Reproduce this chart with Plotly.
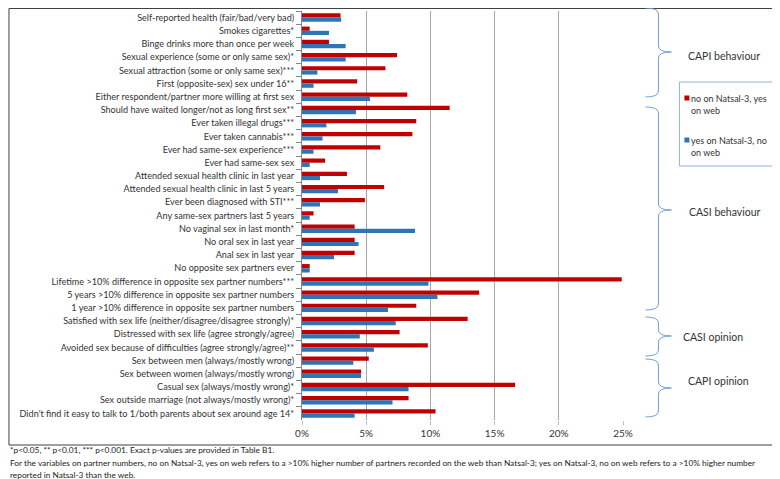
"""Natsal-3 vs web survey: discordant responses by variable."""

import plotly.graph_objects as go

categories = [
    "Self-reported health (fair/bad/very bad)",
    "Smokes cigarettes*",
    "Binge drinks more than once per week",
    "Sexual experience (some or only same sex)*",
    "Sexual attraction (some or only same sex)***",
    "First (opposite-sex) sex under 16**",
    "Either respondent/partner more willing at first sex",
    "Should have waited longer/not as long first sex**",
    "Ever taken illegal drugs***",
    "Ever taken cannabis***",
    "Ever had same-sex experience***",
    "Ever had same-sex sex",
    "Attended sexual health clinic in last year",
    "Attended sexual health clinic in last 5 years",
    "Ever been diagnosed with STI***",
    "Any same-sex partners last 5 years",
    "No vaginal sex in last month*",
    "No oral sex in last year",
    "Anal sex in last year",
    "No opposite sex partners ever",
    "Lifetime >10% difference in opposite sex partner numbers***",
    "5 years >10% difference in opposite sex partner numbers",
    "1 year >10% difference in opposite sex partner numbers",
    "Satisfied with sex life (neither/disagree/disagree strongly)*",
    "Distressed with sex life (agree strongly/agree)",
    "Avoided sex because of difficulties (agree strongly/agree)**",
    "Sex between men (always/mostly wrong)",
    "Sex between women (always/mostly wrong)",
    "Casual sex (always/mostly wrong)*",
    "Sex outside marriage (not always/mostly wrong)*",
    "Didn't find it easy to talk to 1/both parents about sex around age 14*",
]

# % no on Natsal-3, yes on web
no_natsal_yes_web = [
    3.0, 0.6, 2.1, 7.4, 6.5, 4.3, 8.2, 11.5, 8.9, 8.6,
    6.1, 1.8, 3.5, 6.4, 4.9, 0.9, 4.1, 4.1, 4.1, 0.6,
    24.9, 13.8, 8.9, 12.9, 7.6, 9.8, 5.2, 4.6, 16.6, 8.3,
    10.4,
]

# % yes on Natsal-3, no on web
yes_natsal_no_web = [
    3.05, 2.1, 3.4, 3.4, 1.2, 0.9, 5.3, 4.2, 1.9, 1.6,
    0.9, 0.6, 1.4, 2.8, 1.4, 0.6, 8.8, 4.4, 2.5, 0.6,
    9.85, 10.55, 6.7, 7.3, 4.5, 5.6, 4.0, 4.6, 8.3, 7.05,
    4.1,
]

series_names = ["no on Natsal-3, yes on web", "yes on Natsal-3, no on web"]
legend_text = ["no on Natsal-3, yes<br>on web", "yes on Natsal-3, no<br>on web"]
group_labels = ["CAPI behaviour", "CASI behaviour", "CASI opinion", "CAPI opinion"]
x_ticks = [0, 5, 10, 15, 20, 25]

footnotes = [
    "*p<0.05, ** p<0.01, *** p<0.001. Exact p-values are provided in Table B1.",
    "For the variables on partner numbers, no on Natsal-3, yes on web refers to a >10% "
    "higher number of partners recorded on the web than Natsal-3; yes on Natsal-3, no on "
    "web refers to a >10% higher number",
    "reported in Natsal-3 than the web.",
]

RED = "#C00000"
BLUE = "#2E75B6"
BRACE = "#6FA0D8"
FONT = "Lato, Liberation Sans, sans-serif"

# the page body adds an 8px margin, so the figure is drawn 8px smaller
OFF = 8
W, H = 780 - OFF, 479 - OFF
# plot area edges in page pixels
PLOT_L, PLOT_R, PLOT_T, PLOT_B = 302, 623.5, 11, 420


def px(x):
    return (x - PLOT_L) / (PLOT_R - PLOT_L)


def py(y):
    return (PLOT_B - y) / (PLOT_B - PLOT_T)


def brace_path(top, bottom, mid, x0=646, x1=659, x2=672, r=6):
    pts = [
        f"M {px(x0)},{py(top)}",
        f"Q {px(x1)},{py(top)} {px(x1)},{py(top + r)}",
        f"L {px(x1)},{py(mid - r)}",
        f"Q {px(x1)},{py(mid)} {px(x2)},{py(mid)}",
        f"Q {px(x1)},{py(mid)} {px(x1)},{py(mid + r)}",
        f"L {px(x1)},{py(bottom - r)}",
        f"Q {px(x1)},{py(bottom)} {px(x0)},{py(bottom)}",
    ]
    return " ".join(pts)


fig = go.Figure()
for name, vals, color in zip(series_names,
                             [no_natsal_yes_web, yes_natsal_no_web],
                             [RED, BLUE]):
    fig.add_trace(go.Bar(
        x=vals, y=categories, orientation="h", name=name,
        marker=dict(color=color, line=dict(width=0)),
        showlegend=False,
    ))

# brace geometry in page pixels: (top, bottom, tip, label x, label y)
brace_pos = [
    (8, 97, 52, 687, 56),
    (107, 310, 210, 688, 212),
    (317, 356, 336, 682, 337),
    (359, 417, 388, 687, 381),
]

shapes = []
annotations = []
for label, (top, bot, mid, lx, ly) in zip(group_labels, brace_pos):
    shapes.append(dict(type="path", xref="paper", yref="paper",
                       path=brace_path(top, bot, mid),
                       line=dict(color=BRACE, width=1)))
    annotations.append(dict(xref="paper", yref="paper", x=px(lx), y=py(ly),
                            xanchor="left", yanchor="middle", showarrow=False,
                            text=label, font=dict(size=10.5, color="#333333")))

# manual legend box
shapes.append(dict(type="rect", xref="paper", yref="paper",
                   x0=px(680), x1=px(774), y0=py(82), y1=py(166),
                   line=dict(color="#8DB4E2", width=1)))
for i, (txt, color) in enumerate(zip(legend_text, [RED, BLUE])):
    ytop = 98 + i * 42
    shapes.append(dict(type="rect", xref="paper", yref="paper",
                       x0=px(685), x1=px(690), y0=py(ytop - 2.5), y1=py(ytop + 2.5),
                       fillcolor=color, line=dict(width=0)))
    annotations.append(dict(xref="paper", yref="paper", x=px(690), y=py(ytop - 7),
                            xanchor="left", yanchor="top", align="left",
                            showarrow=False, text=txt,
                            font=dict(size=9, color="#333333")))

# outer frame
shapes.append(dict(type="rect", xref="paper", yref="paper",
                   x0=px(OFF + 0.5), x1=px(778), y0=py(OFF + 0.5), y1=py(445),
                   line=dict(color="#404040", width=1), layer="below"))

for i, note in enumerate(footnotes):
    annotations.append(dict(xref="paper", yref="paper", x=px(OFF), y=py(450.5 + i * 12),
                            xanchor="left", yanchor="middle", showarrow=False,
                            text=note, font=dict(size=8.3, color="#222222")))

fig.update_layout(
    width=W, height=H,
    margin=dict(l=PLOT_L - OFF, r=780 - PLOT_R, t=PLOT_T - OFF, b=479 - PLOT_B),
    paper_bgcolor="white", plot_bgcolor="white",
    barmode="group", bargap=0.36, bargroupgap=0,
    font=dict(family=FONT, size=10, color="#333333"),
    shapes=shapes, annotations=annotations,
    xaxis=dict(
        range=[0, 25], tickvals=x_ticks, ticktext=[f"{t}%" for t in x_ticks],
        showgrid=True, gridcolor="#A6A6A6", gridwidth=1, zeroline=False,
        ticks="outside", ticklen=4, tickcolor="#BFBFBF", showline=False,
        tickfont=dict(size=10, color="#333333"), automargin=False,
    ),
    yaxis=dict(
        type="category", autorange="reversed", showline=True, linecolor="#868686",
        ticks="outside", ticklen=5, tickcolor="#868686", tickson="boundaries",
        ticklabelstandoff=5,
        showgrid=False, tickfont=dict(size=9.1, color="#333333"), automargin=False,
    ),
)

fig.write_html("out.html")
